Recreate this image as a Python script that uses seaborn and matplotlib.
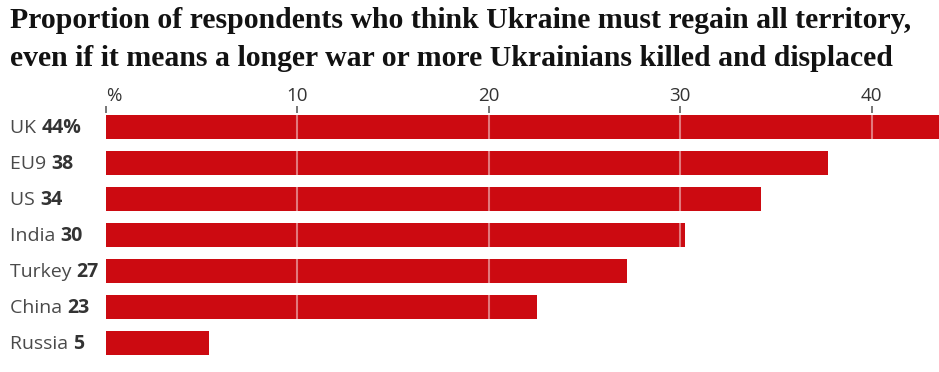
import matplotlib
matplotlib.use("Agg")
import matplotlib.pyplot as plt
import seaborn as sns
import pandas as pd

# Data
countries = ["UK", "EU9", "US", "India", "Turkey", "China", "Russia"]
shares = [44.0, 37.7, 34.2, 30.25, 27.2, 22.5, 5.4]
labels = ["44%", "38", "34", "30", "27", "23", "5"]
ticks = [0, 10, 20, 30, 40]
tick_labels = ["%", "10", "20", "30", "40"]

df = pd.DataFrame({"country": countries, "share": shares})

sns.set_theme(style="white")
plt.rcParams["font.family"] = ["Open Sans", "DejaVu Sans"]

fig = plt.figure(figsize=(9.39, 3.72), dpi=100)
ax = fig.add_axes([106 / 939, 1 - 361 / 372, 1 - 106 / 939, 248 / 372])

sns.barplot(data=df, x="share", y="country", orient="h", color="#cc0a11",
            saturation=1, width=0.667, ax=ax, zorder=2, linewidth=0)

ax.set_xlim(0, 833 / 19.14)
ax.set_ylim(6.5, -0.39)

# faint gridlines visible only over the bars
for t in ticks[1:]:
    ax.axvline(t, color="white", alpha=0.45, lw=1.5, zorder=3)

ax.xaxis.tick_top()
ax.set_xticks(ticks)
ax.set_xticklabels(tick_labels)
ax.tick_params(axis="x", direction="out", length=5, width=1.4, color="#767676",
               labelsize=13.5, labelcolor="#333333", pad=1, top=True, bottom=False)
ax.get_xticklabels()[0].set_horizontalalignment("left")
ax.set_yticks([])
ax.set_xlabel("")
ax.set_ylabel("")
for s in ax.spines.values():
    s.set_visible(False)

# category labels: regular name followed by bold value
fig.canvas.draw()
renderer = fig.canvas.get_renderer()
for i, (name, lab) in enumerate(zip(countries, labels)):
    yfig = 1 - (128 + 36 * i) / 372
    t = fig.text(10 / 939, yfig, name + " ", ha="left", va="center",
                 fontsize=14, color="#4a4a4a")
    bb = t.get_window_extent(renderer)
    fig.text(bb.x1 / fig.bbox.width, yfig, lab, ha="left", va="center",
             fontsize=14, color="#333333", fontweight="bold")

# title, scaled to the reference width
title_lines = ["Proportion of respondents who think Ukraine must regain all territory,",
               "even if it means a longer war or more Ukrainians killed and displaced"]
t1 = fig.text(10 / 939, 1 - 21 / 372, title_lines[0], ha="left", va="center",
              fontsize=16, fontweight="bold", family="Liberation Serif", color="#121212")
w = t1.get_window_extent(renderer).width
size = 16 * 905 / w
t1.set_fontsize(size)
fig.text(10 / 939, 1 - 59 / 372, title_lines[1], ha="left", va="center",
         fontsize=size, fontweight="bold", family="Liberation Serif", color="#121212")

fig.savefig("out.png", dpi=100)
